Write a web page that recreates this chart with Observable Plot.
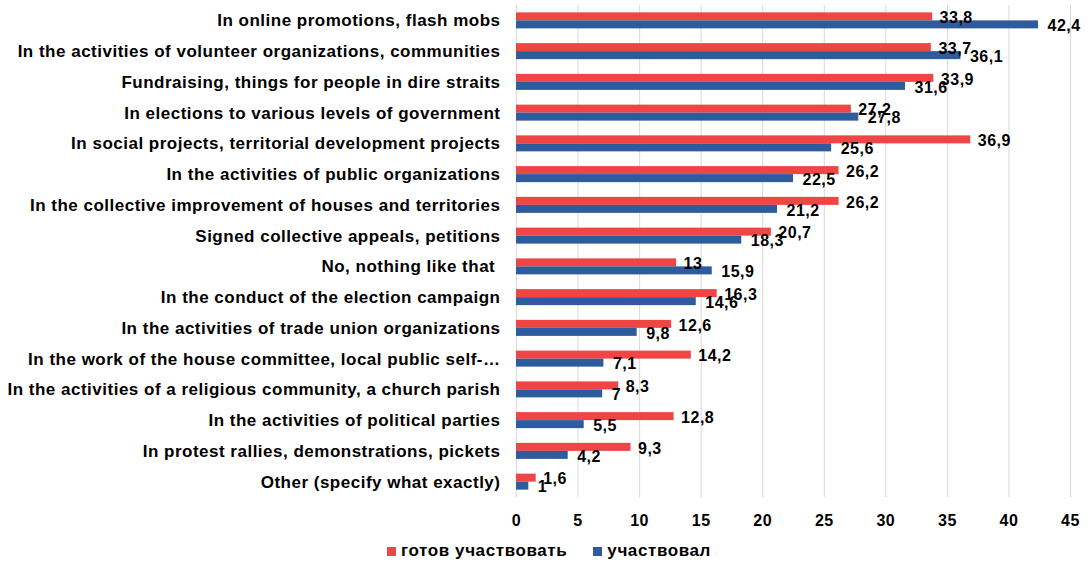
<!DOCTYPE html>
<html>
<head>
<meta charset="utf-8">
<script src="https://cdn.jsdelivr.net/npm/d3@7"></script>
<script src="https://cdn.jsdelivr.net/npm/@observablehq/plot@0.6"></script>
<style>
  body { margin: 0; background: #fff; font-family: "Liberation Sans", Arial, sans-serif; }
  #legend { display: flex; justify-content: center; align-items: center; height: 30px; padding-left: 8px; padding-top: 2px;
    font-weight: bold; font-size: 17px; letter-spacing: 0.6px; color: #000; gap: 26px; box-sizing: border-box; }
  #legend span.sw { display: inline-block; width: 9px; height: 9px; margin-right: 5px; }
  .ylab text { letter-spacing: 0.5px; }
  .vlab text, .xlab text { letter-spacing: 0.5px; }
</style>
</head>
<body>
<div id="chart"></div>
<div id="legend"></div>
<script>
const categories = [
  "In online promotions, flash mobs",
  "In the activities of volunteer organizations, communities",
  "Fundraising, things for people in dire straits",
  "In elections to various levels of government",
  "In social projects, territorial development projects",
  "In the activities of public organizations",
  "In the collective improvement of houses and territories",
  "Signed collective appeals, petitions",
  "No, nothing like that\u00a0",
  "In the conduct of the election campaign",
  "In the activities of trade union organizations",
  "In the work of the house committee, local public self-…",
  "In the activities of a religious community, a church parish",
  "In the activities of political parties",
  "In protest rallies, demonstrations, pickets",
  "Other (specify what exactly)"
];
const seriesNames = ["готов участвовать", "участвовал"];
const ready = [33.8, 33.7, 33.9, 27.2, 36.9, 26.2, 26.2, 20.7, 13, 16.3, 12.6, 14.2, 8.3, 12.8, 9.3, 1.6];
const participated = [42.4, 36.1, 31.6, 27.8, 25.6, 22.5, 21.2, 18.3, 15.9, 14.6, 9.8, 7.1, 7, 5.5, 4.2, 1];
const xTicks = [0, 5, 10, 15, 20, 25, 30, 35, 40, 45];
const colors = ["#EF4545", "#2D5B9C"];

const readyData = categories.map((c, i) => ({category: c, value: ready[i]}));
const partData = categories.map((c, i) => ({category: c, value: participated[i]}));
const fmt = v => String(v).replace(".", ",");

const H = 535, mt = 5, mb = 38;
const step = (H - mt - mb) / categories.length;
const barH = 8;
const outer = step / 2 - barH;

const chart = Plot.plot({
  width: 1090,
  height: H,
  marginLeft: 516,
  marginRight: 20,
  marginTop: mt,
  marginBottom: mb,
  style: {fontFamily: "'Liberation Sans', Arial, sans-serif", fontSize: "16px", fontWeight: "bold", color: "#000"},
  x: {domain: [0, 45], ticks: xTicks, label: null},
  y: {domain: categories, padding: 0, round: false, label: null},
  marks: [
    Plot.gridX(xTicks, {stroke: "#d9d9d9", strokeOpacity: 1, strokeWidth: 1}),
    Plot.axisX({ticks: xTicks, tickSize: 0, tickPadding: 17, fill: "#000", fontSize: 16, fontWeight: "bold", label: null, className: "xlab"}),
    Plot.axisY({tickSize: 0, tickPadding: 16, fill: "#000", fontSize: 17, fontWeight: "bold", label: null, className: "ylab"}),
    Plot.barX(readyData, {x: "value", y: "category", fill: colors[0], insetTop: outer, insetBottom: step / 2}),
    Plot.barX(partData, {x: "value", y: "category", fill: colors[1], insetTop: step / 2, insetBottom: outer}),
    Plot.text(readyData, {x: "value", y: "category", text: d => fmt(d.value), textAnchor: "start", dx: 7, dy: -barH / 2 + 1, fill: "#000", fontSize: 16, fontWeight: "bold", className: "vlab"}),
    Plot.text(partData, {x: "value", y: "category", text: d => fmt(d.value), textAnchor: "start", dx: 9, dy: barH / 2 + 1, fill: "#000", fontSize: 16, fontWeight: "bold", className: "vlab"})
  ]
});
document.getElementById("chart").appendChild(chart);

const legend = document.getElementById("legend");
seriesNames.forEach((name, i) => {
  const item = document.createElement("div");
  item.style.display = "flex";
  item.style.alignItems = "center";
  const sw = document.createElement("span");
  sw.className = "sw";
  sw.style.background = colors[i];
  item.appendChild(sw);
  item.appendChild(document.createTextNode(name));
  legend.appendChild(item);
});
</script>
</body>
</html>
